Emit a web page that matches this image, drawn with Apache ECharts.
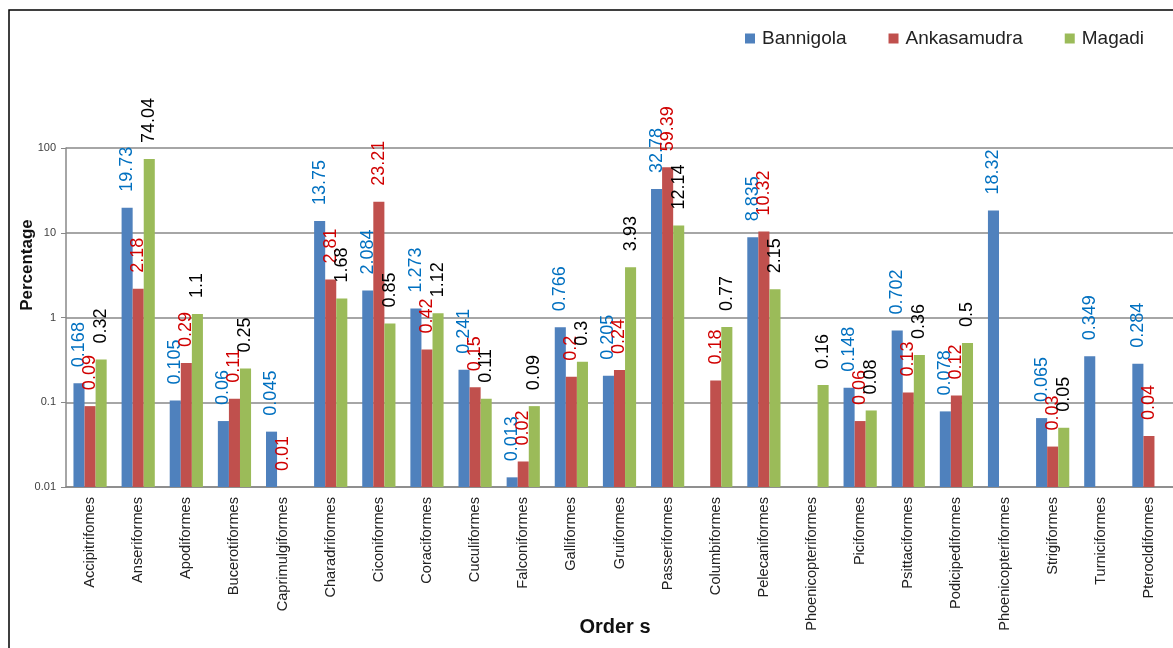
<!DOCTYPE html>
<html>
<head>
<meta charset="utf-8">
<script src="https://cdn.jsdelivr.net/npm/echarts@6/dist/echarts.min.js"></script>
<style>
html,body{margin:0;padding:0;background:#fff;}
#chart{width:1173px;height:648px;}
</style>
</head>
<body>
<div id="chart"></div>
<script>
const categories = ["Accipitrifomes","Anseriformes","Apodiformes","Bucerotiformes","Caprimulgiformes","Charadriformes","Ciconiformes","Coraciformes","Cuculiformes","Falconiformes","Galliformes","Gruiformes","Passeriformes","Columbiformes","Pelecaniformes","Phoenicopteriformes","Piciformes","Psittaciformes","Podicipediformes","Phoenicopteriformes ","Strigiformes","Turniciformes","Pterocldiformes"];
const bannigola = [0.168,19.73,0.105,0.06,0.045,13.75,2.084,1.273,0.241,0.013,0.766,0.205,32.78,null,8.835,null,0.148,0.702,0.078,18.32,0.065,0.349,0.284];
const ankasamudra = [0.09,2.18,0.29,0.11,0.01,2.81,23.21,0.42,0.15,0.02,0.2,0.24,59.39,0.18,10.32,null,0.06,0.13,0.12,null,0.03,null,0.04];
const magadi = [0.32,74.04,1.1,0.25,null,1.68,0.85,1.12,0.11,0.09,0.3,3.93,12.14,0.77,2.15,0.16,0.08,0.36,0.5,null,0.05,null,null];
const yTicks = ["0.01","0.1","1","10","100"];
const AXIS_MIN = 0.01, AXIS_MAX = 100;

const FONT = 'Liberation Sans, Arial, sans-serif';
const chart = echarts.init(document.getElementById('chart'));

function mkSeries(name, values, idx, color, labelColor){
  const data = [];
  values.forEach((v, i) => { if (v !== null) data.push([i, v]); });
  return {
    name: name, type: 'custom', data: data,
    encode: {x: 0, y: 1},
    itemStyle: {color: color},
    clip: false,
    renderItem: function(params, api){
      const ci = api.value(0), v = api.value(1);
      const topPt = api.coord([ci, v]);
      const basePt = api.coord([ci, AXIS_MIN]);
      const band = api.size([1, 0])[0];
      const bw = band * 0.69 / 3;
      const x0 = basePt[0] - 1.5 * bw + idx * bw;
      return {
        type: 'group',
        children: [
          {type: 'rect', shape: {x: x0, y: topPt[1], width: bw, height: basePt[1] - topPt[1]},
           style: {fill: color}},
          {type: 'text', x: x0 + bw / 2, y: topPt[1] - 16, rotation: Math.PI / 2,
           style: {text: String(v), fill: labelColor, fontSize: 18, fontFamily: FONT,
                   align: 'left', verticalAlign: 'middle'}}
        ]
      };
    }
  };
}
chart.setOption({
  animation: false,
  textStyle: {fontFamily: FONT},
  grid: {left: 66, right: 0, top: 148, bottom: 161, containLabel: false},
  legend: {
    left: 740, top: 24, itemWidth: 10, itemHeight: 10, itemGap: 42, icon: 'rect',
    textStyle: {fontSize: 19, color: '#222', padding: [0,0,0,2]},
    data: ['Bannigola','Ankasamudra','Magadi']
  },
  xAxis: {
    type: 'category', data: categories,
    axisLine: {lineStyle: {color: '#888', width: 1.5}},
    axisTick: {show: false},
    axisLabel: {rotate: 90, fontSize: 14.6, color: '#222', margin: 10, interval: 0,
      formatter: v => v.trim()}
  },
  yAxis: {
    type: 'log', logBase: 10, min: AXIS_MIN, max: AXIS_MAX,
    axisLine: {show: true, lineStyle: {color: '#888', width: 1.5}},
    axisTick: {show: true, length: 5, lineStyle: {color: '#888'}},
    axisLabel: {fontSize: 11, color: '#404040', margin: 10,
      formatter: v => { const i = Math.round(Math.log10(v)) + 2; return yTicks[i] !== undefined ? yTicks[i] : ''; }},
    splitLine: {lineStyle: {color: '#888', width: 1.5}}
  },
  graphic: [
    {type: 'rect', shape: {x: 9, y: 10, width: 1200, height: 700}, style: {fill: 'none', stroke: '#000', lineWidth: 1.5}, silent: true},
    {type: 'text', x: 27, y: 265, rotation: Math.PI/2,
     style: {text: 'Percentage', fontSize: 17, fontWeight: 'bold', fill: '#111', align: 'center', verticalAlign: 'middle', fontFamily: FONT}},
    {type: 'text', x: 615, y: 627,
     style: {text: 'Order s', fontSize: 20, fontWeight: 'bold', fill: '#111', align: 'center', verticalAlign: 'middle', fontFamily: FONT}}
  ],
  series: [
    mkSeries('Bannigola', bannigola, 0, '#4F81BD', '#0070C0'),
    mkSeries('Ankasamudra', ankasamudra, 1, '#C0504D', '#D00000'),
    mkSeries('Magadi', magadi, 2, '#9BBB59', '#000000')
  ]
});
</script>
</body>
</html>
